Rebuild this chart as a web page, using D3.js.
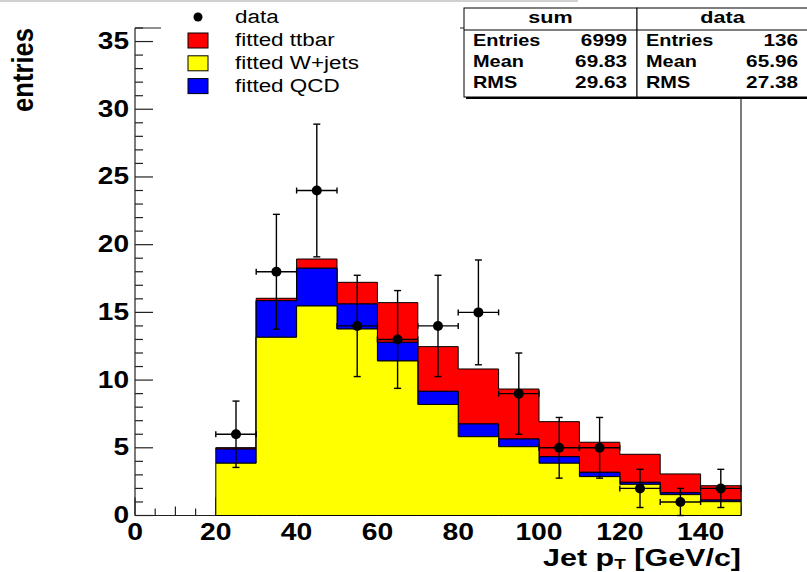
<!DOCTYPE html>
<html>
<head>
<meta charset="utf-8">
<script src="https://d3js.org/d3.v7.min.js"></script>
<style>
  body { margin: 0; background: #fff; }
  text { font-family: "Liberation Sans", Arial, Helvetica, sans-serif; fill: #000; }
</style>
</head>
<body>
<script>
// bin lower edges (GeV/c), width 10
const binLow = [20, 30, 40, 50, 60, 70, 80, 90, 100, 110, 120, 130, 140];
const wjets  = [3.86, 13.16, 15.47, 13.77, 11.41, 8.20, 5.82, 5.08, 3.86, 2.87, 2.30, 1.54, 1.02];
const qcd    = [1.05, 2.70, 2.79, 1.85, 1.38, 0.97, 0.94, 0.57, 0.48, 0.32, 0.15, 0.14, 0.12];
const ttbar  = [0.10, 0.18, 0.68, 1.60, 2.93, 3.30, 4.06, 3.69, 2.59, 2.22, 2.07, 1.39, 1.06];
const dataN  = [6, 18, 24, 14, 13, 14, 15, 9, 5, 5, 2, 1, 2];
const dataErr = [2.45, 4.24, 4.90, 3.74, 3.61, 3.74, 3.87, 3.00, 2.24, 2.24, 1.41, 1.00, 1.41];
const binWidth = 10;

const xTickLabels = [0, 20, 40, 60, 80, 100, 120, 140];
const yTickLabels = [0, 5, 10, 15, 20, 25, 30, 35];

const legendItems = [
  { label: "fitted ttbar", color: "#ff0000" },
  { label: "fitted W+jets", color: "#ffff00" },
  { label: "fitted QCD", color: "#0000ff" }
];
const statNames = ["Entries", "Mean", "RMS"];
const sumStats = ["6999", "69.83", "29.63"];
const dataStats = ["136", "65.96", "27.38"];

let width = 807, height = 572;

let svg = d3.select("body").append("svg")
    .attr("width", width)
    .attr("height", height);

let x = d3.scaleLinear().domain([0, 150]).range([135, 741]);
let y = d3.scaleLinear().domain([0, 36]).range([515.5, 28]);

function label(g, px, py, str, size, weight, anchor, sx) {
  return g.append("text")
      .attr("transform", `translate(${px},${py}) scale(${sx},1)`)
      .attr("text-anchor", anchor)
      .attr("font-size", size)
      .attr("font-weight", weight)
      .text(str);
}

// faint line along the top edge
svg.append("line")
    .attr("x1", 0).attr("x2", 578).attr("y1", 1).attr("y2", 1)
    .attr("stroke", "#d0d0d0").attr("stroke-width", 2);

// ---- axes and frame (drawn under the histograms)
let axes = svg.append("g").attr("stroke", "#222").attr("stroke-width", 1.2);
axes.append("line").attr("x1", x(0)).attr("x2", x(0)).attr("y1", y(36)).attr("y2", y(0));
axes.append("line").attr("x1", x(0)).attr("x2", x(150)).attr("y1", y(0)).attr("y2", y(0));
axes.append("line").attr("x1", x(150)).attr("x2", x(150)).attr("y1", y(36)).attr("y2", y(0));
axes.append("line").attr("x1", x(0)).attr("x2", x(150)).attr("y1", y(36)).attr("y2", y(36));

axes.selectAll(".ytick").data(d3.range(0, 37)).join("line")
    .attr("x1", x(0))
    .attr("x2", d => x(0) + (d % 5 === 0 ? 18 : 8))
    .attr("y1", d => y(d)).attr("y2", d => y(d));

axes.selectAll(".xtick").data(d3.range(0, 151, 5)).join("line")
    .attr("x1", d => x(d)).attr("x2", d => x(d))
    .attr("y1", y(0))
    .attr("y2", d => y(0) - (d % 20 === 0 ? 18 : (d % 10 === 0 ? 9 : 7)));

// ---- stacked histograms
let stackRows = binLow.map((b, i) => ({ x: b, w: wjets[i], q: qcd[i], t: ttbar[i] }));
// closing point for the step curve at the upper edge of the last bin
stackRows.push(Object.assign({}, stackRows[stackRows.length - 1], { x: binLow[binLow.length - 1] + binWidth }));

let series = d3.stack().keys(["w", "q", "t"])(stackRows);
let colors = { w: "#ffff00", q: "#0000ff", t: "#ff0000" };

let area = d3.area()
    .curve(d3.curveStepAfter)
    .x(d => x(d.data.x))
    .y0(d => y(d[0]))
    .y1(d => y(d[1]));

svg.append("g").selectAll("path")
    .data(series.slice().reverse())
    .join("path")
    .attr("d", area)
    .attr("fill", d => colors[d.key])
    .attr("stroke", "#000")
    .attr("stroke-width", 1);

// ---- data points with error bars
let pts = svg.append("g").attr("stroke", "#000").attr("stroke-width", 1.4);
binLow.forEach((b, i) => {
  let cx = x(b + binWidth / 2), cy = y(dataN[i]);
  let yt = y(dataN[i] + dataErr[i]), yb = y(dataN[i] - dataErr[i]);
  let xl = x(b), xr = x(b + binWidth);
  pts.append("line").attr("x1", cx).attr("x2", cx).attr("y1", yt).attr("y2", yb);
  pts.append("line").attr("x1", cx - 3.5).attr("x2", cx + 3.5).attr("y1", yt).attr("y2", yt);
  pts.append("line").attr("x1", cx - 3.5).attr("x2", cx + 3.5).attr("y1", yb).attr("y2", yb);
  pts.append("line").attr("x1", xl).attr("x2", xr).attr("y1", cy).attr("y2", cy);
  pts.append("line").attr("x1", xl).attr("x2", xl).attr("y1", cy - 3).attr("y2", cy + 3);
  pts.append("line").attr("x1", xr).attr("x2", xr).attr("y1", cy - 3).attr("y2", cy + 3);
  pts.append("circle").attr("cx", cx).attr("cy", cy).attr("r", 5)
      .attr("fill", "#000").attr("stroke", "none");
});

// ---- tick labels and titles
let txt = svg.append("g");
yTickLabels.forEach(v => label(txt, 129, y(v) + 7.5, v, 24, "bold", "end", 1.17));
xTickLabels.forEach(v => label(txt, x(v), 540, v, 24, "bold", "middle", 1.18));

let xt = txt.append("text")
    .attr("transform", "translate(741,566) scale(1.27,1)")
    .attr("text-anchor", "end")
    .attr("font-size", 24)
    .attr("font-weight", "bold");
xt.append("tspan").text("Jet p");
xt.append("tspan").attr("font-size", 15).attr("dy", 3).text("T");
xt.append("tspan").attr("dy", -3).text(" [GeV/c]");

txt.append("text")
    .attr("transform", "translate(33,70) rotate(-90)")
    .attr("text-anchor", "middle")
    .attr("font-size", 29)
    .attr("font-weight", "bold")
    .attr("textLength", 84)
    .attr("lengthAdjust", "spacingAndGlyphs")
    .text("entries");

// ---- legend (white box covers the frame top)
let leg = svg.append("g");
leg.append("rect").attr("x", 161).attr("y", 3).attr("width", 299).attr("height", 97).attr("fill", "#fff");
leg.append("circle").attr("cx", 198).attr("cy", 17).attr("r", 4.5).attr("fill", "#000");
label(leg, 235, 23, "data", 19, "normal", "start", 1.18);
legendItems.forEach((d, i) => {
  let by = 33 + i * 22.8;
  leg.append("rect").attr("x", 188).attr("y", by).attr("width", 20).attr("height", 15)
      .attr("fill", d.color).attr("stroke", "#000").attr("stroke-width", 1);
  label(leg, 235, by + 13, d.label, 19, "normal", "start", 1.18);
});

// ---- statistics boxes
function statBox(x0, x1, title, values) {
  let g = svg.append("g");
  g.append("rect").attr("x", x0 + 2).attr("y", 10).attr("width", x1 - x0).attr("height", 89).attr("fill", "#000");
  g.append("rect").attr("x", x0).attr("y", 8).attr("width", x1 - x0).attr("height", 89)
      .attr("fill", "#fff").attr("stroke", "#000").attr("stroke-width", 1);
  g.append("line").attr("x1", x0).attr("x2", x1).attr("y1", 30).attr("y2", 30)
      .attr("stroke", "#000").attr("stroke-width", 1);
  label(g, (x0 + x1) / 2, 23, title, 16, "bold", "middle", 1.35);
  statNames.forEach((n, i) => {
    label(g, x0 + 9, 46 + i * 21, n, 17, "bold", "start", 1.17);
    label(g, x1 - 10, 46 + i * 21, values[i], 17, "bold", "end", 1.22);
  });
}
statBox(464, 637, "sum", sumStats);
statBox(637, 808, "data", dataStats);
</script>
</body>
</html>
